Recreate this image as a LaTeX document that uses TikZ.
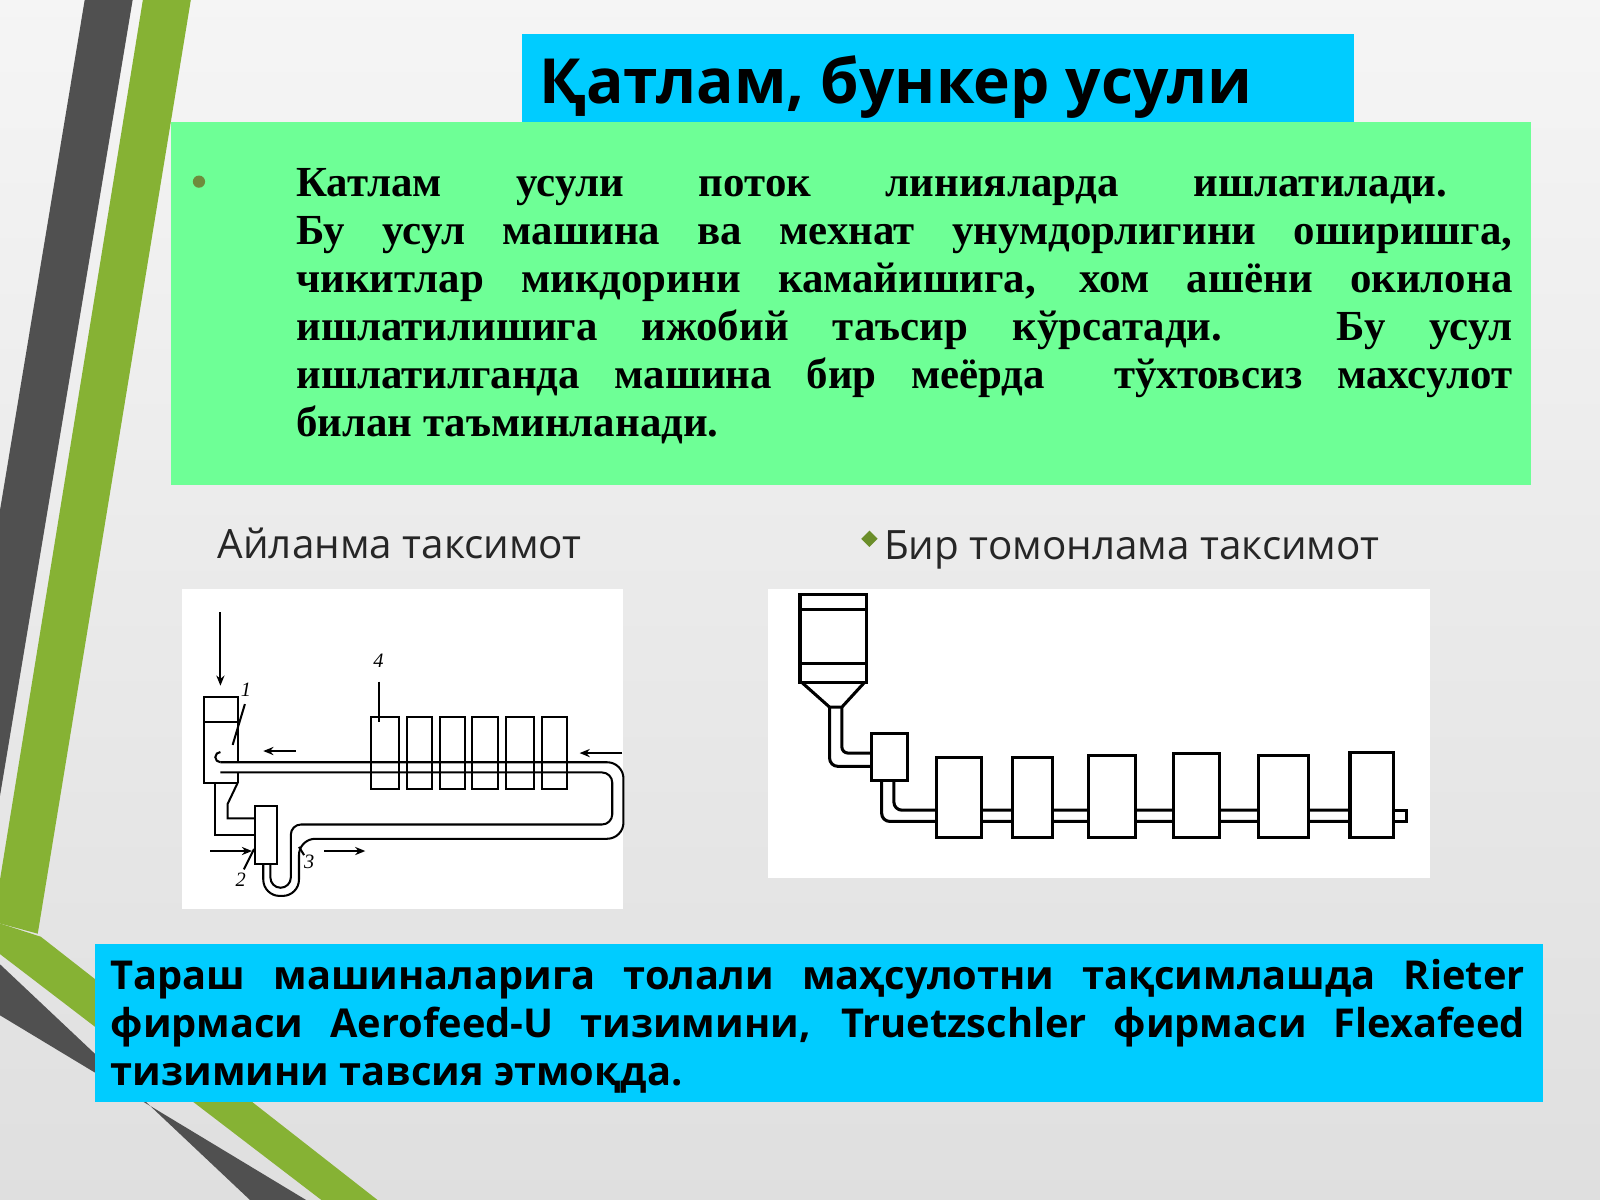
\documentclass[tikz,border=0pt]{standalone}
\usepackage{fontspec}
\setmainfont{Liberation Serif}
\newfontfamily\osans{Open Sans}
\usetikzlibrary{arrows.meta}
\definecolor{cyanbox}{RGB}{0,204,255}
\definecolor{greenbox}{RGB}{110,255,150}
\definecolor{stripegreen}{RGB}{134,178,52}
\definecolor{stripedark}{RGB}{80,80,80}
\definecolor{bulletol}{RGB}{110,140,60}
\tikzset{
  body/.style={anchor=base west,inner sep=0pt,font=\fontsize{21}{24}\selectfont\bfseries},
  foot/.style={anchor=base west,inner sep=0pt,font=\osans\fontsize{19.5}{24}\selectfont\bfseries},
  lbl/.style={anchor=base west,inner sep=0pt,font=\osans\fontsize{19.8}{24}\selectfont,text=black!85},
  thin/.style={line width=1pt},
  thick/.style={line width=1.5pt},
  num/.style={font=\fontsize{10}{12}\selectfont\itshape,inner sep=0pt},
  arr/.style={thin,-{Stealth[length=5pt,width=4pt]}}
}
\begin{document}
\begin{tikzpicture}[x=0.5pt,y=-0.5pt]
\useasboundingbox (0,0) rectangle (1568,1176);
\shade[top color=gray!8,bottom color=gray!25] (0,0) rectangle (1568,1176);
% stripes
\fill[stripedark] (83,0) -- (130,0) -- (0,780) -- (0,500) -- cycle;
\fill[stripegreen] (140,0) -- (187,0) -- (37,915) -- (0,905) -- (0,862) -- cycle;
\fill[stripegreen] (0,905) -- (40,918) -- (370,1176) -- (315,1176) -- (0,935) -- cycle;
\fill[stripedark] (0,945) -- (245,1176) -- (300,1176) -- (0,995) -- cycle;
% title
\fill[cyanbox] (512,33) rectangle (1327,125);
\node[anchor=base west,inner sep=0pt,font=\osans\fontsize{30.5}{36}\selectfont\bfseries] (title) at (528,101) {Қатлам, бункер усули};
% green box
\fill[greenbox] (168,120) rectangle (1500,475);
\fill[bulletol] (195,178) circle (6);
\node[body] (l1) at (290,193) {\makebox[564pt][s]{Катлам усули поток линияларда ишлатилади.}};
\node[body] (l2) at (290,240) {\makebox[596pt][s]{Бу усул машина ва мехнат унумдорлигини оширишга,}};
\node[body] (l3) at (290,287) {\makebox[596pt][s]{чикитлар микдорини камайишига, хом ашёни окилона}};
\node[body] (l4) at (290,334) {\makebox[596pt][s]{ишлатилишига ижобий таъсир кўрсатади. Бу усул}};
\node[body] (l5) at (290,381) {\makebox[596pt][s]{ишлатилганда машина бир меёрда \ тўхтовсиз махсулот}};
\node[body] (l6) at (290,428) {билан таъминланади.};
% labels
\node[lbl] (lab1) at (213,547) {Айланма таксимот};
\fill[stripegreen!80!black] (852,520) -- (860,528) -- (852,536) -- (844,528) -- cycle;
\node[lbl] (lab2) at (866,548) {Бир томонлама таксимот};
% white panels
\fill[white] (178,577) rectangle (611,891);
\fill[white] (753,577) rectangle (1401,860);
% ---- left diagram
\draw[arr] (216,600) -- (216,672);
\draw[thin] (200,683) rectangle (233,708);
\draw[thin] (200,708) -- (200,767) -- (233,767);
\draw[thin] (233,708) -- (233,747) (233,757) -- (233,767);
\draw[thin] (211,767) -- (211,818) -- (250,818);
\draw[thin] (233,767) -- (223,788) -- (223,802) -- (250,802);
\draw[thin] (250,790) rectangle (271,847);
% pipe loop
\draw[thin,rounded corners=8] (216,747) -- (611,747) -- (611,822) -- (293,822) -- (293,878) -- (258,878) -- (258,847);
\draw[thin,rounded corners=5] (216,757) -- (600,757) -- (600,808) -- (285,808) -- (285,870) -- (265,870) -- (265,847);
\draw[thin] (216,747) arc[start angle=90,end angle=270,radius=5];
% boxes 4
\foreach \a/\b in {364/391,399/423,431/456,463/488,496/523,531/556}
  \draw[thin] (\a,703) rectangle (\b,773);
\draw[arr] (290,736) -- (258,736);
\draw[arr] (610,738) -- (568,738);
\draw[arr] (318,834) -- (358,834);
\draw[arr] (206,834) -- (247,834);
\node[num] (n1) at (241,676) {1};
\draw[thin] (228,730) -- (240,690);
\node[num] (n4) at (371,648) {4};
\draw[thin] (371,668) -- (371,708);
\node[num] (n2) at (236,862) {2};
\draw[thin] (239,852) -- (249,832);
\node[num] (n3) at (303,845) {3};
\draw[thin] (298,838) -- (293,830);
% ---- right diagram
\draw[thick] (784,583) rectangle (849,669);
\draw[thick] (784,597) -- (849,597) (784,650) -- (849,650);
\draw[thick] (786,669) -- (813,693) -- (825,693) -- (847,669);
\draw[thick,rounded corners=4] (813,693) -- (813,751) -- (854,751);
\draw[thick,rounded corners=3] (825,693) -- (825,738) -- (854,738);
\draw[thick] (854,719) rectangle (889,765);
\draw[thick,rounded corners=4] (864,765) -- (864,805) -- (1340,805);
\draw[thick] (1340,805) -- (1378,805) -- (1378,794) -- (1340,794);
\draw[thick,rounded corners=4] (1340,794) -- (876,794) -- (876,765);
\foreach \a/\b/\t in {918/962/742,992/1031/742,1067/1113/740,1150/1195/738,1233/1282/740,1323/1366/737}
  \draw[thick,fill=white] (\a,\t) rectangle (\b,821);
% bottom box
\fill[cyanbox] (93,925) rectangle (1512,1080);
\node[foot] (f1) at (108,970) {\makebox[693pt][s]{Тараш машиналарига толали маҳсулотни тақсимлашда Rieter}};
\node[foot] (f2) at (108,1017) {\makebox[693pt][s]{фирмаси Aerofeed-U тизимини, Truetzschler фирмаси Flexafeed}};
\node[foot] (f3) at (108,1064) {тизимини тавсия этмоқда.};
\end{tikzpicture}
\end{document}
